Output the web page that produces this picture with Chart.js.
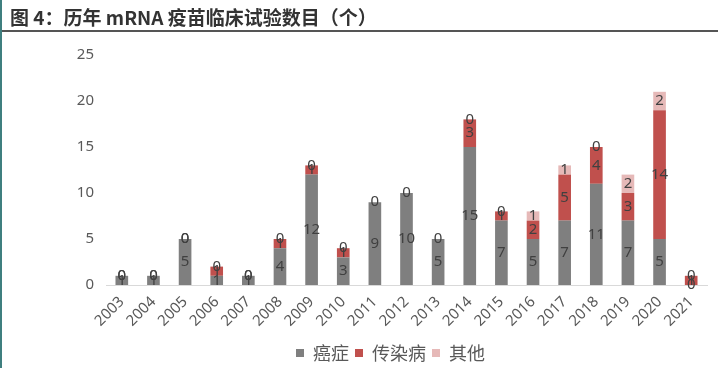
<!DOCTYPE html>
<html><head><meta charset="utf-8">
<script src="https://cdn.jsdelivr.net/npm/chart.js@4.4.1/dist/chart.umd.min.js"></script>
<style>
html,body{margin:0;padding:0;background:#fff;}
#wrap{position:relative;width:718px;height:368px;overflow:hidden;}
#bar{position:absolute;left:0;top:0;width:2px;height:368px;background:#3f7f7f;}
#title{position:absolute;left:10px;top:5px;font-family:"Noto Sans CJK SC","Noto Sans",sans-serif;font-weight:bold;font-size:19px;color:#333;line-height:24px;}
#rule{position:absolute;left:2px;top:30px;width:716px;height:2px;background:#555;}
canvas{position:absolute;left:0;top:0;}
</style></head>
<body><div id="wrap">
<canvas id="c" width="718" height="368"></canvas>
<div id="bar"></div>
<div id="title">图 4：历年 mRNA 疫苗临床试验数目（个）</div>
<div id="rule"></div>
</div>
<script>
const years = ["2003","2004","2005","2006","2007","2008","2009","2010","2011","2012","2013","2014","2015","2016","2017","2018","2019","2020","2021"];
const cancer     = [1,1,5,1,1,4,12,3,9,10,5,15,7,5,7,11,7,5,0];
const infectious = [0,0,0,1,0,1,1,1,0,0,0,3,1,2,5,4,3,14,1];
const other      = [0,0,0,0,0,0,0,0,null,null,null,0,0,1,1,0,2,2,0];
const seriesNames = ["癌症","传染病","其他"];
const yTicks = [0,5,10,15,20,25];

const labelPlugin = {
  id:'segLabels',
  afterLayout(chart){
    if (chart.legend) { chart.legend.left += 37; chart.legend.right += 37; }
  },
  afterDatasetsDraw(chart){
    const ctx = chart.ctx;
    ctx.save();
    ctx.font = '15px "Noto Sans","Liberation Sans",sans-serif';
    ctx.fillStyle = '#404040';
    ctx.textAlign = 'center';
    ctx.textBaseline = 'middle';
    chart.data.datasets.forEach((ds,i)=>{
      const meta = chart.getDatasetMeta(i);
      meta.data.forEach((el,j)=>{
        const v = ds.data[j];
        if (v === null || v === undefined) return;
        const y = (el.y + el.base)/2;
        ctx.fillText(String(v), el.x, y);
      });
    });
    ctx.restore();
  }
};

new Chart(document.getElementById('c'), {
  type:'bar',
  data:{
    labels: years,
    datasets:[
      {label:seriesNames[0], data:cancer, backgroundColor:'#7f7f7f'},
      {label:seriesNames[1], data:infectious, backgroundColor:'#c0504d'},
      {label:seriesNames[2], data:other, backgroundColor:'#e6b9b8'}
    ]
  },
  options:{
    responsive:false,
    animation:false,
    layout:{padding:{top:55,right:11,bottom:-4,left:0}},
    datasets:{bar:{barPercentage:0.4,categoryPercentage:1}},
    plugins:{
      tooltip:{enabled:false},
      legend:{
        position:'bottom',
        labels:{
          boxWidth:8, boxHeight:8, padding:6,
          color:'#595959',
          font:{size:18, family:'"Noto Sans CJK SC","Noto Sans",sans-serif'}
        }
      }
    },
    scales:{
      x:{
        stacked:true,
        grid:{display:false, drawTicks:false},
        border:{display:true, color:'#d9d9d9', width:1},
        ticks:{color:'#595959', maxRotation:45, minRotation:45, padding:8,
               font:{size:15, family:'"Noto Sans","Liberation Sans",sans-serif'}}
      },
      y:{
        stacked:true,
        min:0, max:25,
        afterBuildTicks(scale){ scale.ticks = yTicks.map(v=>({value:v})); },
        afterFit(scale){ scale.width = 106; },
        grid:{display:false, drawTicks:false},
        border:{display:false},
        ticks:{color:'#595959', padding:12,
               font:{size:15, family:'"Noto Sans","Liberation Sans",sans-serif'}}
      }
    }
  },
  plugins:[labelPlugin]
});
</script>
</body></html>
